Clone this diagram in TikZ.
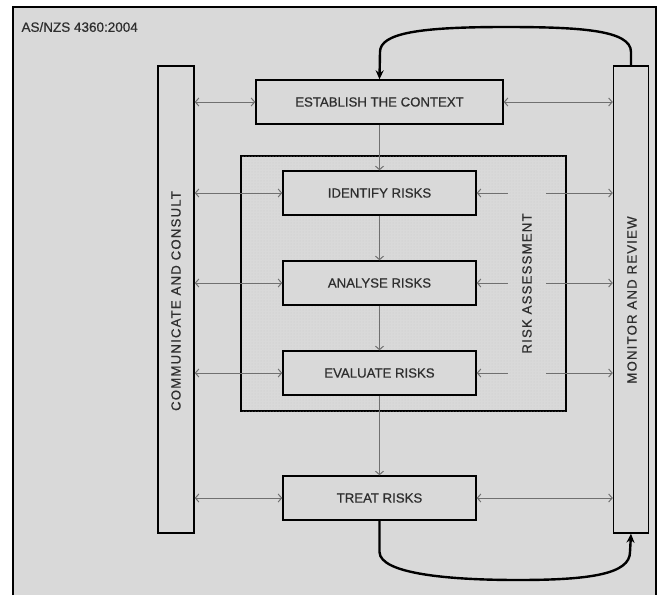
\documentclass[tikz,border=0pt]{standalone}
\usepackage{fontspec}
\setmainfont{Liberation Sans}[FakeBold=0.6]
\newfontfamily\labfont[FakeBold=0.6]{Liberation Sans}
\newfontfamily\spacedfont[LetterSpace=9,FakeBold=0.6]{Liberation Sans}
\usetikzlibrary{arrows.meta,patterns}
\definecolor{bg}{HTML}{D9D9D9}
\definecolor{dotcol}{HTML}{C8C8C8}
\definecolor{arrowgray}{HTML}{707070}
\definecolor{txt}{HTML}{2E2E2E}
\tikzset{
  procbox/.style={draw=black, line width=1.4pt, fill=bg, minimum height=44pt,
    inner sep=0pt, text=txt, font=\labfont\fontsize{13.2pt}{15pt}\selectfont},
  barbox/.style={draw=black, line width=1.4pt, fill=bg, inner sep=0pt},
  vlabel/.style={rotate=90, text=txt, font=\spacedfont\fontsize{13.2pt}{15pt}\selectfont},
  biarrow/.style={draw=arrowgray, line width=1pt,
    {Straight Barb[length=3.5pt,width=8pt]}-{Straight Barb[length=3.5pt,width=8pt]}},
  farrow/.style={draw=arrowgray, line width=1pt, -{Straight Barb[length=3.5pt,width=8pt]}},
  barrow/.style={draw=arrowgray, line width=1pt, {Straight Barb[length=3.5pt,width=8pt]}-},
  loop/.style={draw=black, line width=2.4pt, -{Stealth[length=9pt,width=8pt]}},
}
\begin{document}
\begin{tikzpicture}[x=1pt,y=-1pt]
\useasboundingbox (0,0) rectangle (659,595);
% background and frame
\fill[white] (0,0) rectangle (659,595);
\fill[bg] (13,7) rectangle (656,595);
\draw[line width=1.6pt] (13,595) -- (13,7) -- (656,7) -- (656,595);
\node[anchor=west, text=txt, font=\labfont\fontsize{13.5pt}{15pt}\selectfont] (title) at (18,27) {AS/NZS 4360:2004};
% risk assessment box
\node[draw=black, line width=1.4pt, fill=bg, postaction={pattern=dots, pattern color=dotcol},
  minimum width=325pt, minimum height=255pt, inner sep=0pt] (ra) at (403.5,283.5) {};
\node[vlabel] (ralabel) at (527,283.5) {RISK ASSESSMENT};
% side bars
\node[barbox, minimum width=36pt, minimum height=467pt] (lbar) at (176,299.5) {};
\node[vlabel] (lbarlabel) at (176,301) {COMMUNICATE AND CONSULT};
\node[barbox, minimum width=35pt, minimum height=467pt] (rbar) at (631,299.5) {};
\node[vlabel] (rbarlabel) at (632,300) {MONITOR AND REVIEW};
% process boxes
\node[procbox, minimum width=247pt] (est) at (379.5,102) {ESTABLISH THE CONTEXT};
\node[procbox, minimum width=193pt] (id) at (379.5,193) {IDENTIFY RISKS};
\node[procbox, minimum width=193pt] (an) at (379.5,283) {ANALYSE RISKS};
\node[procbox, minimum width=193pt] (ev) at (379.5,373) {EVALUATE RISKS};
\node[procbox, minimum width=193pt] (tr) at (379.5,498) {TREAT RISKS};
% vertical flow
\draw[farrow] (est.south) -- (id.north);
\draw[farrow] (id.south) -- (an.north);
\draw[farrow] (an.south) -- (ev.north);
\draw[farrow] (ev.south) -- (tr.north);
% communicate arrows
\foreach \b in {est,id,an,ev,tr}{
  \draw[biarrow] (lbar.east |- \b) -- (\b.west);
}
% monitor arrows
\draw[biarrow] (est.east) -- (rbar.west |- est);
\draw[biarrow] (tr.east) -- (rbar.west |- tr);
\coordinate (gapL) at (508,0);
\coordinate (gapR) at (546,0);
\foreach \b in {id,an,ev}{
  \draw[barrow] (\b.east) -- (gapL |- \b);
  \draw[farrow] (gapR |- \b) -- (rbar.west |- \b);
}
% feedback loops
\draw[loop] (rbar.north) -- (631,52) .. controls (631,30) and (580,27) .. (505,27)
  .. controls (420,27) and (380,33) .. (380,52) -- (est.north);
\draw[loop] (tr.south) -- (379.5,552) .. controls (380,574) and (450,580) .. (518,580)
  .. controls (590,580) and (630,574) .. (630,552) -- (rbar.south);
\end{tikzpicture}
\end{document}
